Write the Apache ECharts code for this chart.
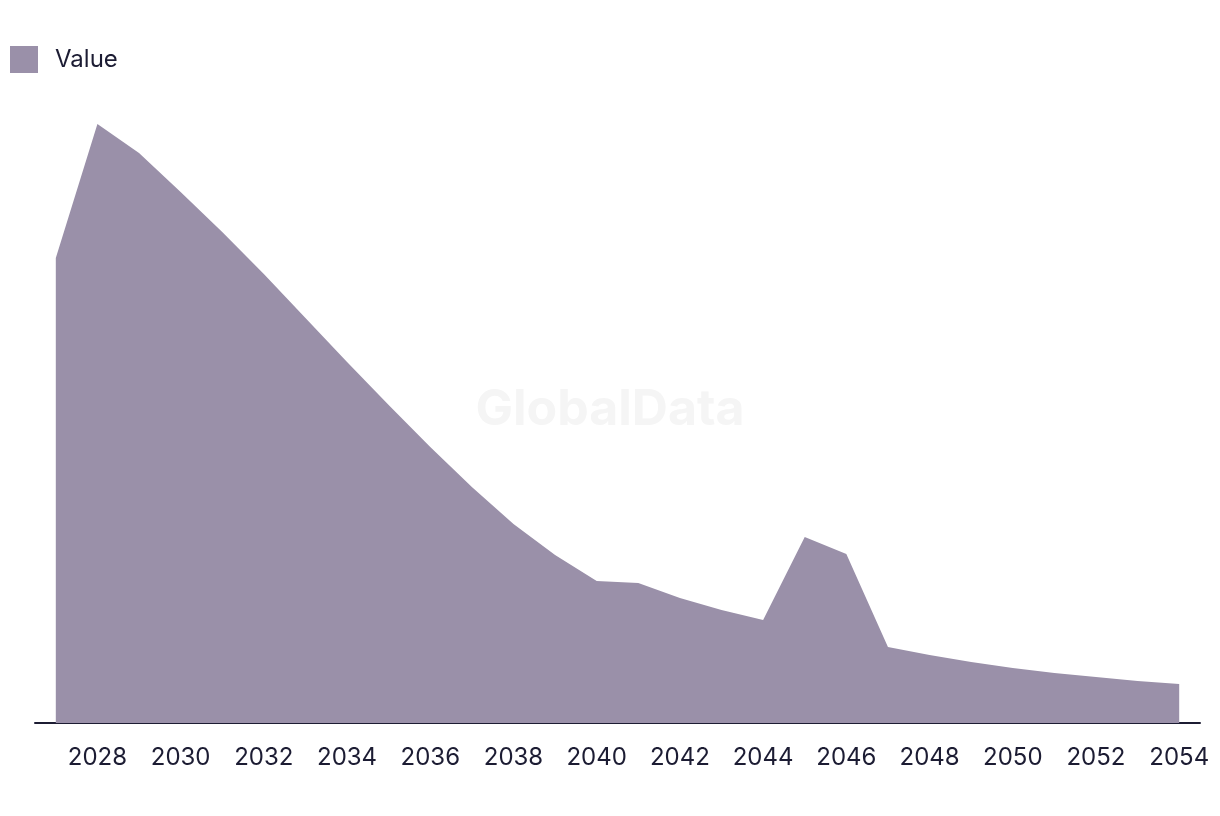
<!DOCTYPE html>
<html>
<head>
<meta charset="utf-8">
<script src="https://cdn.jsdelivr.net/npm/echarts@6/dist/echarts.min.js"></script>
<style>
html,body{margin:0;padding:0;background:#fff;}
#chart{width:1220px;height:816px;}
</style>
</head>
<body>
<div id="chart"></div>
<script>
const years = [2027,2028,2029,2030,2031,2032,2033,2034,2035,2036,2037,2038,2039,2040,2041,2042,2043,2044,2045,2046,2047,2048,2049,2050,2051,2052,2053,2054];
const values = [46.5,59.9,57.0,53.1,49.1,44.9,40.5,36.1,31.8,27.6,23.6,19.9,16.8,14.2,14.0,12.5,11.3,10.3,18.6,16.9,7.6,6.8,6.1,5.5,5.0,4.6,4.2,3.9];
const tickLabels = [2028,2030,2032,2034,2036,2038,2040,2042,2044,2046,2048,2050,2052,2054];
const seriesName = 'Value';

const chart = echarts.init(document.getElementById('chart'));
const font = 'Inter, Liberation Sans, Arial, sans-serif';
chart.setOption({
  animation:false,
  backgroundColor:'#ffffff',
  graphic:[{type:'text',left:'center',top:385,z:0,style:{text:'GlobalData',font:'bold 50px '+font,fill:'#f5f5f5'}}],
  legend:{
    left:10, top:46, itemWidth:28, itemHeight:27, icon:'rect', padding:0,
    textStyle:{fontFamily:font,fontSize:24,color:'#1c1c33',padding:[0,0,0,12]},
    data:[seriesName]
  },
  grid:{left:35,right:20,top:100,bottom:93},
  xAxis:{
    type:'value',min:2026.5,max:2054.5,
    axisLine:{lineStyle:{color:'#1c1c33',width:2}},
    axisTick:{show:false},
    splitLine:{show:false},
    axisLabel:{customValues:tickLabels,fontFamily:font,fontSize:24,color:'#1c1c33',margin:23,formatter:v=>String(v)}
  },
  yAxis:{type:'value',min:0,max:62.3,show:false,splitLine:{show:false}},
  series:[{
    name:seriesName,type:'line',symbol:'none',
    data:years.map((y,i)=>[y,values[i]]),
    lineStyle:{width:0,color:'#9a90a9'},
    itemStyle:{color:'#9a90a9'},
    areaStyle:{color:'#9a90a9',opacity:1},
    z:2
  }]
});
</script>
</body>
</html>
